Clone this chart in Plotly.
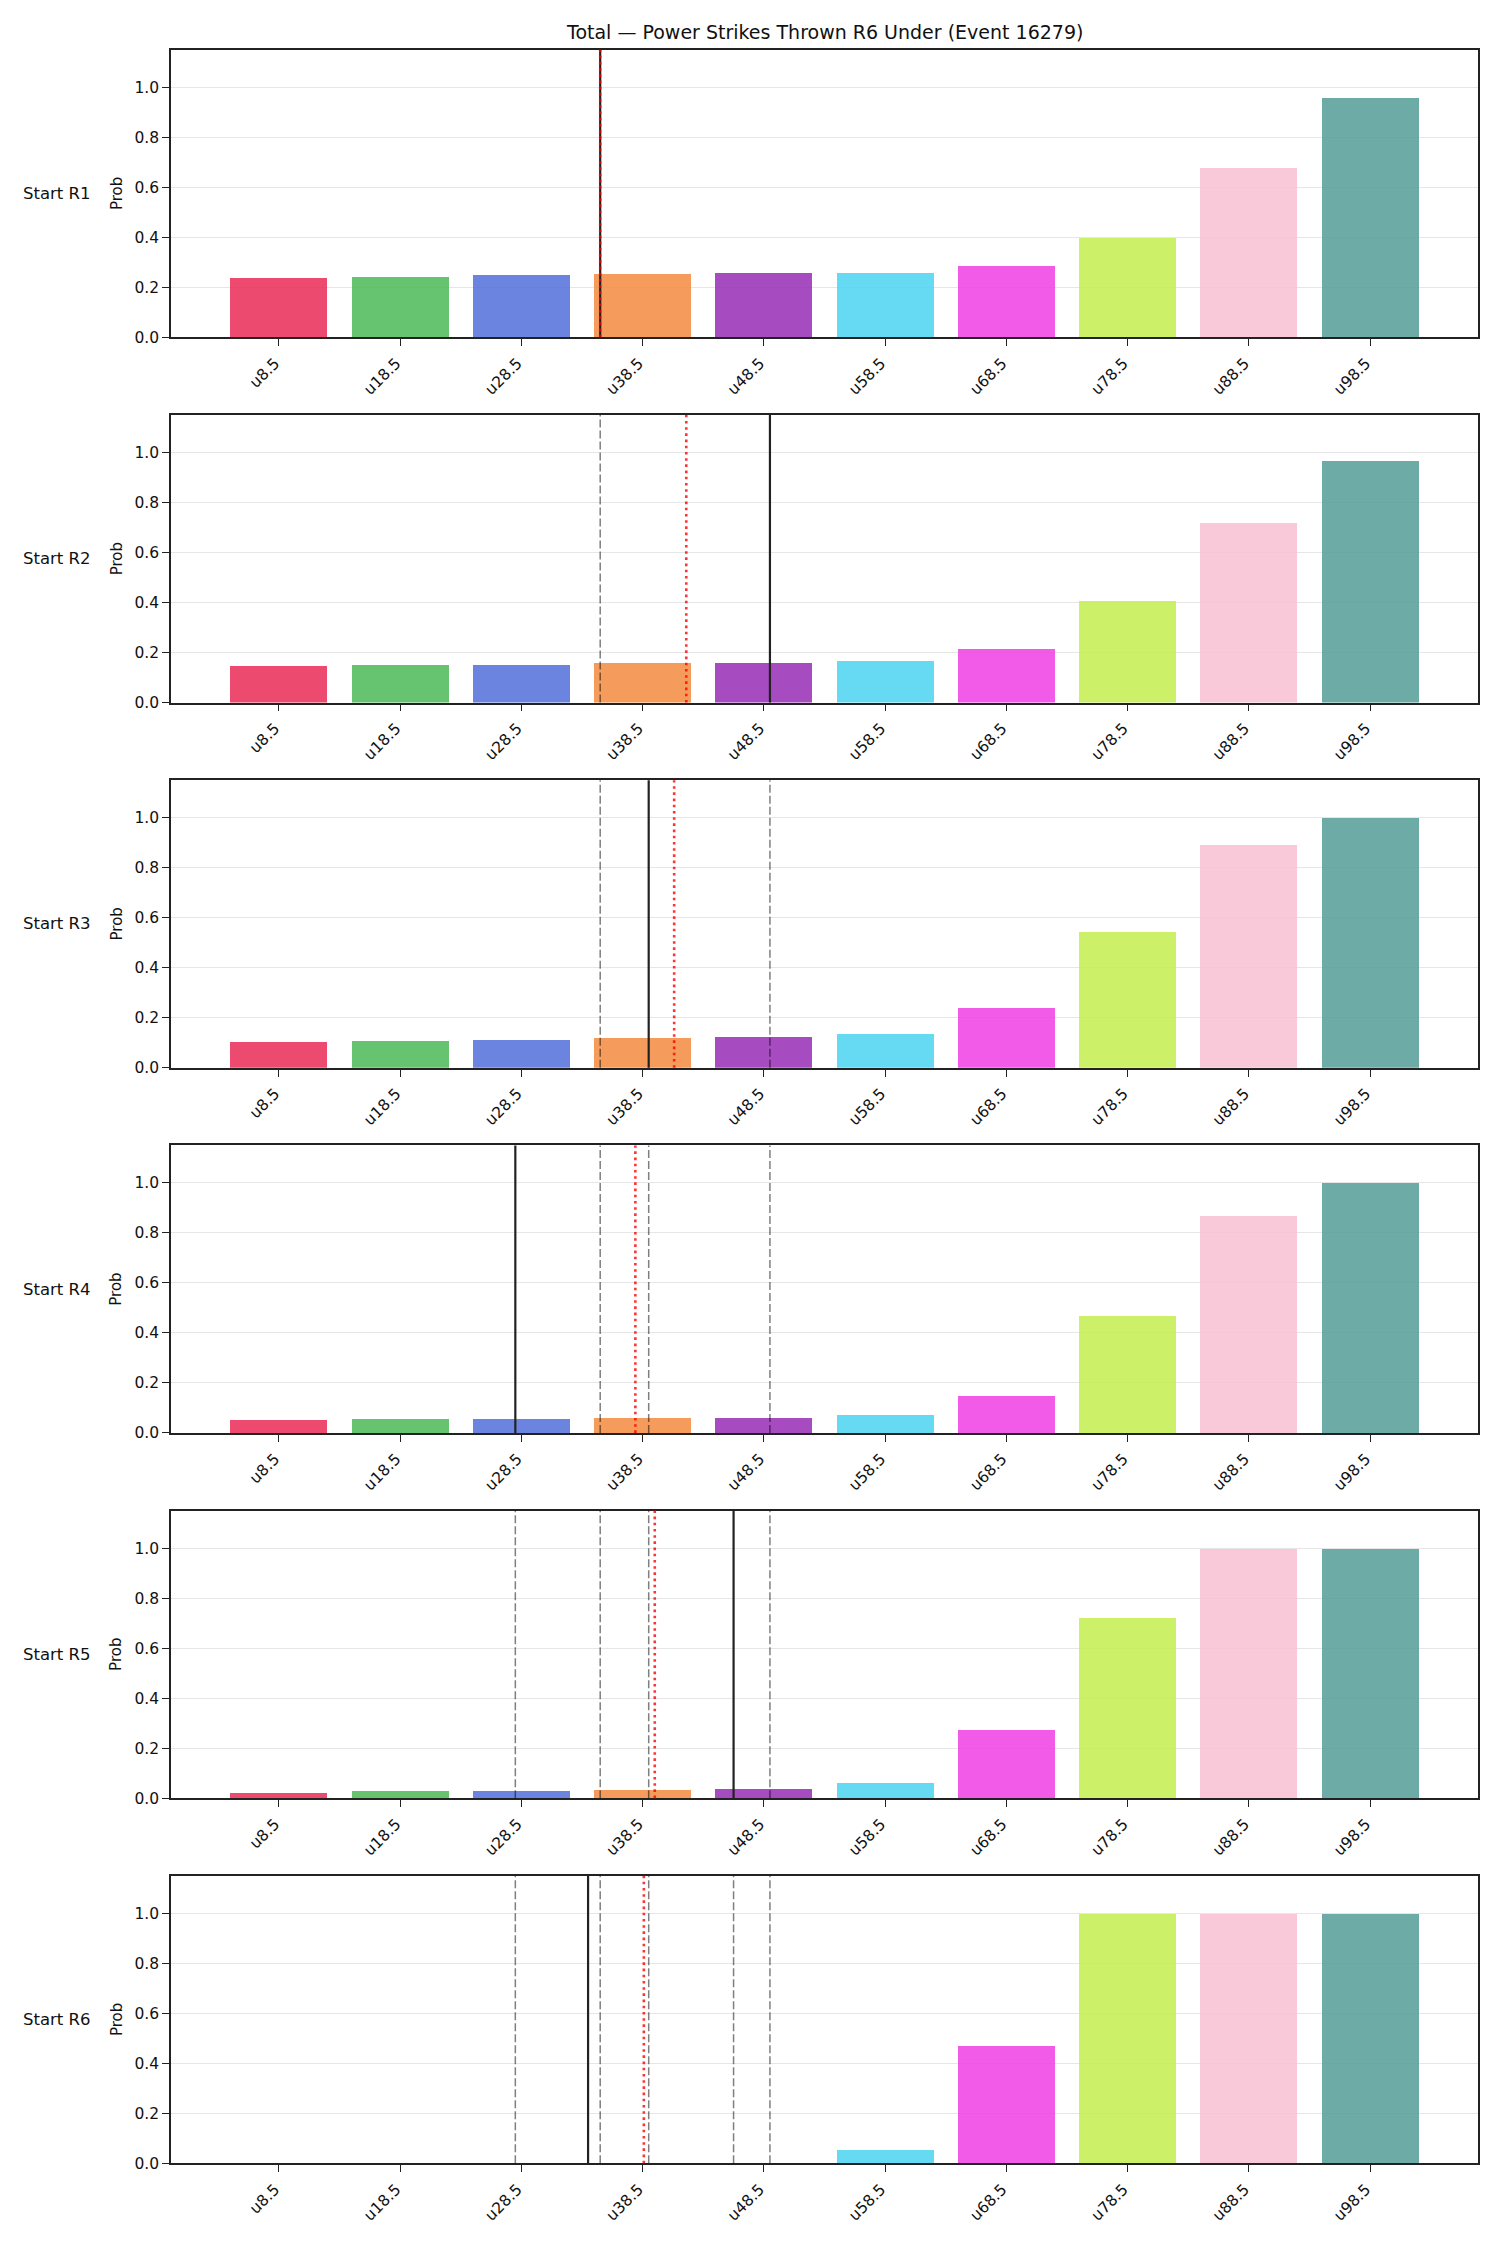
import plotly.graph_objects as go

# ---------------- data ----------------
thresholds = [8.5, 18.5, 28.5, 38.5, 48.5, 58.5, 68.5, 78.5, 88.5, 98.5]
tick_labels = ["u8.5", "u18.5", "u28.5", "u38.5", "u48.5", "u58.5", "u68.5", "u78.5", "u88.5", "u98.5"]
row_labels = ["Start R1", "Start R2", "Start R3", "Start R4", "Start R5", "Start R6"]

prob_r1 = [0.240, 0.244, 0.250, 0.254, 0.258, 0.258, 0.286, 0.398, 0.678, 0.957]
prob_r2 = [0.147, 0.151, 0.151, 0.159, 0.158, 0.168, 0.216, 0.407, 0.717, 0.968]
prob_r3 = [0.102, 0.106, 0.110, 0.118, 0.122, 0.134, 0.237, 0.544, 0.890, 0.997]
prob_r4 = [0.052, 0.056, 0.056, 0.060, 0.060, 0.072, 0.147, 0.467, 0.867, 0.999]
prob_r5 = [0.024, 0.032, 0.032, 0.036, 0.040, 0.064, 0.273, 0.722, 0.998, 0.998]
prob_r6 = [0.0, 0.0, 0.0, 0.002, 0.002, 0.054, 0.472, 1.0, 1.0, 1.0]
probs = [prob_r1, prob_r2, prob_r3, prob_r4, prob_r5, prob_r6]

# previous-round reference lines (dashed), current line (solid), expected (red dotted)
prev_lines = [[], [35], [35, 49], [35, 39, 49], [28, 35, 39, 49], [28, 35, 39, 46, 49]]
current_line = [35, 49, 39, 28, 46, 34]
expected_line = [35.0, 42.1, 41.1, 37.9, 39.5, 38.6]

bar_colors = [
    "rgba(233,42,86,0.85)", "rgba(75,186,87,0.85)", "rgba(81,110,217,0.85)",
    "rgba(243,137,62,0.85)", "rgba(150,43,181,0.85)", "rgba(75,211,241,0.85)",
    "rgba(240,62,228,0.85)", "rgba(195,237,78,0.85)", "rgba(248,191,210,0.85)",
    "rgba(83,157,150,0.85)",
]

title_text = "Total \u2014 Power Strikes Thrown R6 Under (Event 16279)"

# ---------------- layout geometry ----------------
W, H = 1500, 2250
x_left, x_right = 171, 1478
top0, step, ph = 50.0, 366.67, 288.7
FONT = "DejaVu Sans"

fig = go.Figure()
annotations = []
shapes = []

for i in range(6):
    n = "" if i == 0 else str(i + 1)
    xa, ya = "x" + n, "y" + n
    top = top0 + step * i
    bot = top + ph
    dom_y = [1 - bot / H, 1 - top / H]
    fig.add_trace(go.Bar(
        x=thresholds, y=probs[i], width=8,
        marker=dict(color=bar_colors, line=dict(width=0)),
        xaxis=xa, yaxis=ya, showlegend=False,
    ))
    fig.layout["xaxis" + n] = dict(
        domain=[x_left / W, x_right / W], anchor=ya,
        range=[-0.4, 107.4], tickvals=thresholds, ticktext=tick_labels,
        tickangle=-45, showgrid=False, zeroline=False,
        showline=True, linecolor="#222", linewidth=1.5, mirror=True,
        ticks="outside", ticklen=7, tickwidth=1.3, tickcolor="#222",
        ticklabelshift=-4, ticklabelstandoff=2,
        tickfont=dict(family=FONT, size=15.5, color="#111"),
    )
    fig.layout["yaxis" + n] = dict(
        domain=dom_y, anchor=xa, range=[0, 1.15],
        tickvals=[0, 0.2, 0.4, 0.6, 0.8, 1.0], tickformat=".1f",
        showgrid=True, gridcolor="#E6E6E6", gridwidth=1, zeroline=False,
        showline=True, linecolor="#222", linewidth=1.5, mirror=True,
        ticks="outside", ticklen=7, tickwidth=1.3, tickcolor="#222",
        tickfont=dict(family=FONT, size=15.5, color="#111"),
    )
    ymid = (dom_y[0] + dom_y[1]) / 2
    annotations.append(dict(
        text=row_labels[i], xref="paper", yref="paper", x=56.5 / W, y=ymid,
        xanchor="center", yanchor="middle", showarrow=False,
        font=dict(family=FONT, size=16.5, color="#111"),
    ))
    annotations.append(dict(
        text="Prob", xref="paper", yref="paper", x=116.5 / W, y=ymid,
        xanchor="center", yanchor="middle", showarrow=False, textangle=-90,
        font=dict(family=FONT, size=15, color="#111"),
    ))
    for v in prev_lines[i]:
        shapes.append(dict(
            type="line", xref=xa, yref=ya + " domain", x0=v, x1=v, y0=0, y1=1,
            line=dict(color="rgba(0,0,0,0.5)", width=1.5, dash="8px,3px"),
        ))
    shapes.append(dict(
        type="line", xref=xa, yref=ya + " domain", x0=current_line[i], x1=current_line[i], y0=0, y1=1,
        line=dict(color="#222", width=2.2),
    ))
    shapes.append(dict(
        type="line", xref=xa, yref=ya + " domain", x0=expected_line[i], x1=expected_line[i], y0=0, y1=1,
        line=dict(color="rgba(255,0,0,0.8)", width=2.6, dash="2.6px,3.6px"),
    ))

annotations.append(dict(
    text=title_text, xref="paper", yref="paper",
    x=((x_left + x_right) / 2) / W, y=1 - 31.7 / H,
    xanchor="center", yanchor="middle", showarrow=False,
    font=dict(family=FONT, size=19, color="#111"),
))

fig.update_layout(
    width=W, height=H, margin=dict(l=0, r=0, t=0, b=0),
    paper_bgcolor="white", plot_bgcolor="white",
    annotations=annotations, shapes=shapes, bargap=0,
    font=dict(family=FONT),
)

fig.write_html("out.html")
